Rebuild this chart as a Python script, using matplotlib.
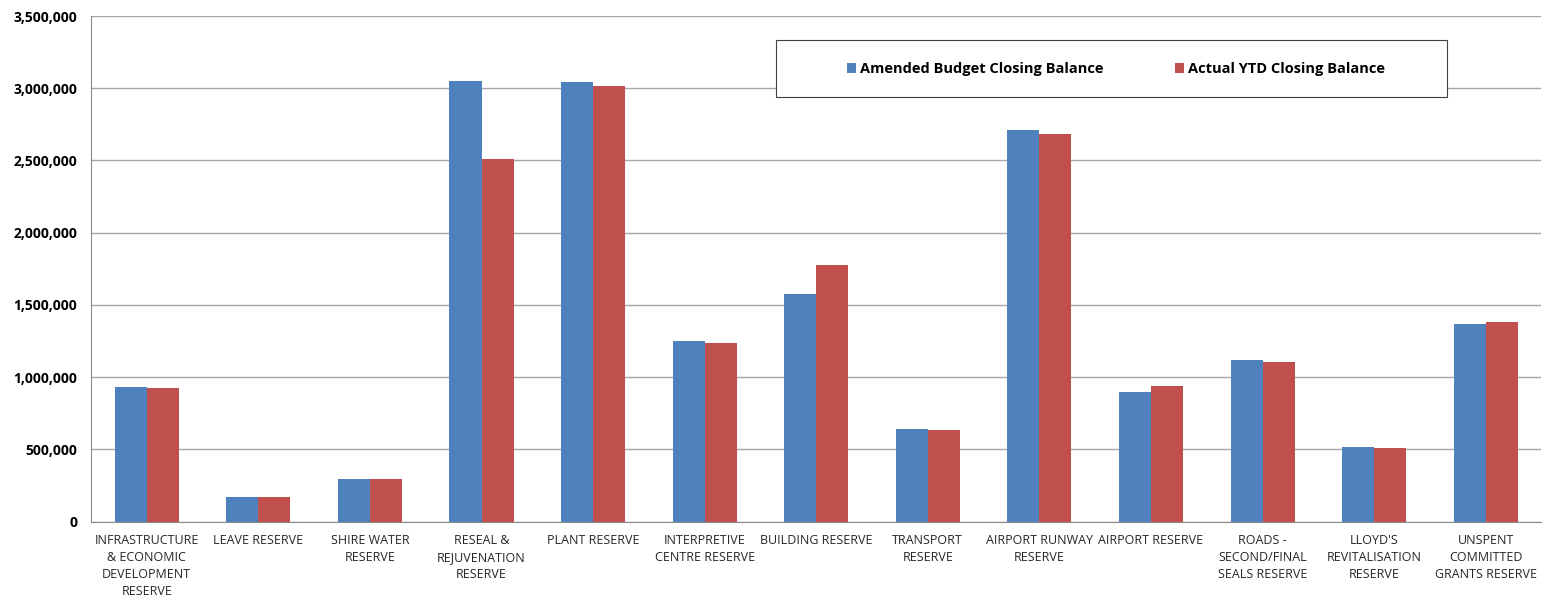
import matplotlib.pyplot as plt
import matplotlib.ticker as mticker
from matplotlib.patches import Rectangle
import numpy as np

categories = [
    "INFRASTRUCTURE\n& ECONOMIC\nDEVELOPMENT\nRESERVE",
    "LEAVE RESERVE",
    "SHIRE WATER\nRESERVE",
    "RESEAL &\nREJUVENATION\nRESERVE",
    "PLANT RESERVE",
    "INTERPRETIVE\nCENTRE RESERVE",
    "BUILDING RESERVE",
    "TRANSPORT\nRESERVE",
    "AIRPORT RUNWAY\nRESERVE",
    "AIRPORT RESERVE",
    "ROADS -\nSECOND/FINAL\nSEALS RESERVE",
    "LLOYD'S\nREVITALISATION\nRESERVE",
    "UNSPENT\nCOMMITTED\nGRANTS RESERVE",
]
amended_budget = [934000, 170000, 296000, 3053000, 3046000, 1250000, 1578000,
                  638000, 2712000, 894000, 1116000, 518000, 1370000]
actual_ytd = [927000, 170000, 296000, 2512000, 3014000, 1238000, 1779000,
              631000, 2686000, 940000, 1104000, 511000, 1384000]
series_names = ["Amended Budget Closing Balance", "Actual YTD Closing Balance"]

blue = "#4F81BD"
red = "#C0504D"

fig = plt.figure(figsize=(15.43, 6), dpi=100)
ax = fig.add_axes([91 / 1543, 1 - 521.5 / 600, 1 - 91 / 1543 - 0.001, (521.5 - 16) / 600])

x = np.arange(len(categories))
w = 0.287
b1 = ax.bar(x - w / 2, amended_budget, w, color=blue, label=series_names[0], zorder=3)
b2 = ax.bar(x + w / 2, actual_ytd, w, color=red, label=series_names[1], zorder=3)

ax.set_xlim(-0.5, len(categories) - 0.5)
ax.set_ylim(0, 3500000)
ax.yaxis.set_major_locator(mticker.MultipleLocator(500000))
ax.yaxis.set_major_formatter(mticker.FuncFormatter(lambda v, p: f"{v:,.0f}"))
ax.grid(axis="y", color="#a6a6a6", linewidth=1, zorder=0)

for s in ["top", "right"]:
    ax.spines[s].set_visible(False)
for s in ["left", "bottom"]:
    ax.spines[s].set_color("#8c8c8c")

ax.tick_params(axis="y", length=0, pad=10, labelsize=10)
ax.tick_params(axis="x", length=0, pad=9)
for t in ax.get_yticklabels():
    t.set_fontweight("bold")
    t.set_fontfamily("Open Sans")

ax.set_xticks(x)
ax.set_xticklabels(categories, fontsize=9, fontfamily="Open Sans",
                   linespacing=1.4, color="#262626")

# legend box
fig.patches.append(Rectangle((776 / 1543, 1 - 97 / 600), 671 / 1543, 57 / 600,
                             transform=fig.transFigure, fill=True, facecolor="white",
                             edgecolor="#404040", linewidth=0.8, zorder=5))
leg = fig.legend(handles=[b1, b2], loc="center",
                 bbox_to_anchor=(1116 / 1543, 1 - 69 / 600),
                 ncol=2, frameon=False, handlelength=0.6, handleheight=0.7,
                 handletextpad=0.3, columnspacing=4.9,
                 prop={"family": "Open Sans", "weight": "bold", "size": 10.5})
leg.set_zorder(6)

plt.savefig("out.png", dpi=100)
